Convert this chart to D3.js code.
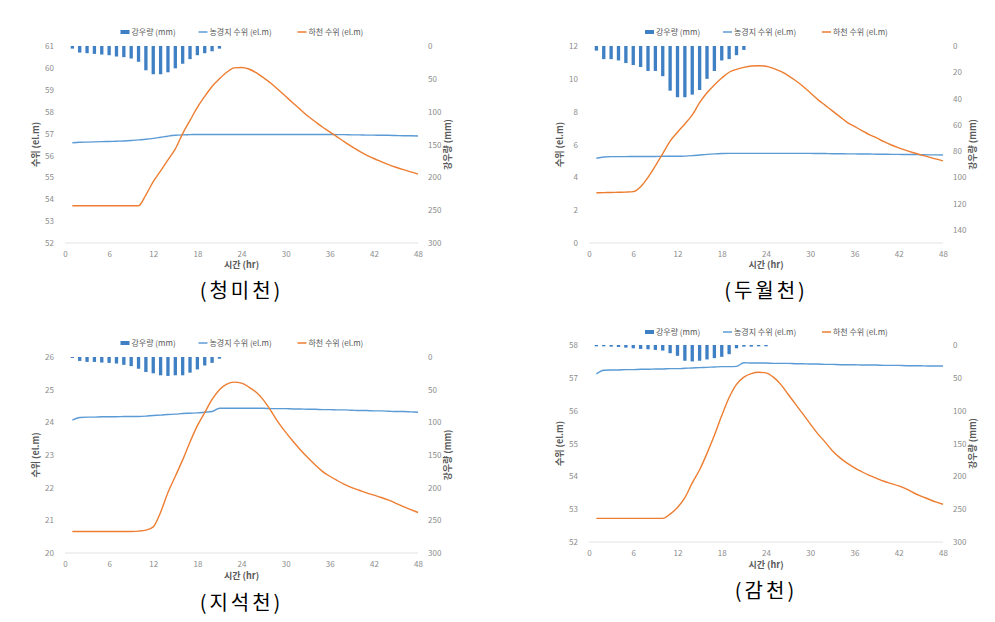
<!DOCTYPE html>
<html><head><meta charset="utf-8">
<script src="https://cdn.jsdelivr.net/npm/d3@7"></script>
<style>
body{margin:0;background:#fff;}
svg{display:block;}
</style></head>
<body><svg id="c" width="995" height="622"></svg>
<script>
// ---------- DATA ----------
const hours = [1,2,3,4,5,6,7,8,9,10,11,12,13,14,15,16,17,18,19,20,21,22,23,24,25,26,27,28,29,30,31,32,33,34,35,36,37,38,39,40,41,42,43,44,45,46,47,48];
const rainHours21 = [1,2,3,4,5,6,7,8,9,10,11,12,13,14,15,16,17,18,19,20,21];
const rainHours24 = [1,2,3,4,5,6,7,8,9,10,11,12,13,14,15,16,17,18,19,20,21,22,23,24];
const xTicks = [0,6,12,18,24,30,36,42,48];

const seriesNames = ["강우량 (mm)", "농경지 수위 (el.m)", "하천 수위 (el.m)"];
const panelNames = ["(청미천)", "(두월천)", "(지석천)", "(감천)"];

// 청미천
const rain_cheongmi = [4,10,11,12,13,14,16,17,19,24,37,43,43,40,34,27,20,14,11,8,4];
const farm_cheongmi = [56.58,56.60,56.61,56.62,56.63,56.64,56.65,56.66,56.68,56.71,56.74,56.78,56.83,56.88,56.92,56.94,56.95,56.96,56.96,56.96,56.96,56.96,56.96,56.96,56.96,56.96,56.96,56.96,56.96,56.96,56.96,56.96,56.96,56.96,56.96,56.96,56.95,56.95,56.94,56.94,56.93,56.93,56.92,56.92,56.91,56.90,56.90,56.89];
const river_cheongmi = [53.7,53.7,53.7,53.7,53.7,53.7,53.7,53.7,53.7,53.7,54.2,54.8,55.3,55.8,56.3,57.0,57.6,58.2,58.7,59.15,59.5,59.8,60.0,60.02,59.95,59.78,59.55,59.3,59.0,58.7,58.4,58.1,57.8,57.55,57.3,57.08,56.85,56.62,56.4,56.2,56.02,55.86,55.72,55.58,55.46,55.35,55.25,55.15];
const leftTicks_cheongmi = [52,53,54,55,56,57,58,59,60,61];
const rightTicks_cheongmi = [0,50,100,150,200,250,300];

// 두월천
const rain_duwol = [3.5,10,10,11,13,14.5,16,19,19,23,34,39,39,37,33.5,25,19,11,10,7,3];
const farm_duwol = [5.16,5.24,5.26,5.26,5.26,5.27,5.27,5.27,5.27,5.28,5.28,5.28,5.29,5.32,5.36,5.40,5.43,5.45,5.46,5.46,5.46,5.46,5.46,5.46,5.46,5.46,5.46,5.46,5.46,5.46,5.45,5.45,5.44,5.44,5.43,5.43,5.42,5.42,5.41,5.41,5.40,5.40,5.39,5.39,5.38,5.37,5.37,5.36];
const river_duwol = [3.06,3.07,3.08,3.09,3.10,3.13,3.43,4.0,4.7,5.45,6.2,6.75,7.25,7.8,8.55,9.15,9.63,10.05,10.4,10.58,10.7,10.78,10.8,10.77,10.64,10.45,10.2,9.9,9.55,9.15,8.75,8.4,8.05,7.7,7.35,7.1,6.85,6.6,6.4,6.17,5.97,5.8,5.64,5.5,5.37,5.25,5.12,5.0];
const leftTicks_duwol = [0,2,4,6,8,10,12];
const rightTicks_duwol = [0,20,40,60,80,100,120,140];

// 지석천
const rain_jiseok = [1.5,6,7.5,7.5,8.5,9,10,12,14,18,23,25,28,29,28,28,24,19,13,9,2.5];
const farm_jiseok = [24.07,24.15,24.16,24.16,24.17,24.17,24.17,24.18,24.18,24.18,24.19,24.21,24.22,24.24,24.25,24.27,24.28,24.29,24.31,24.33,24.43,24.43,24.43,24.43,24.43,24.43,24.43,24.42,24.42,24.42,24.41,24.41,24.40,24.40,24.39,24.39,24.38,24.38,24.37,24.36,24.36,24.35,24.35,24.34,24.33,24.33,24.32,24.31];
const river_jiseok = [20.66,20.66,20.66,20.66,20.66,20.66,20.66,20.66,20.66,20.67,20.7,20.8,21.25,21.85,22.35,22.85,23.4,23.9,24.3,24.7,25.0,25.17,25.23,25.2,25.08,24.92,24.68,24.35,24.0,23.7,23.42,23.16,22.92,22.7,22.5,22.35,22.22,22.1,22.0,21.92,21.84,21.77,21.7,21.62,21.52,21.42,21.33,21.24];
const leftTicks_jiseok = [20,21,22,23,24,25,26];
const rightTicks_jiseok = [0,50,100,150,200,250,300];

// 감천
const rain_gam = [2,2,2.5,3,4,5,6,6.5,7.5,8.5,12.5,16.5,24,25,24,22,20,18,14,5,2.5,2.5,2,2];
const farm_gam = [57.12,57.23,57.24,57.24,57.25,57.25,57.26,57.26,57.27,57.27,57.28,57.28,57.29,57.30,57.31,57.32,57.33,57.34,57.34,57.35,57.46,57.45,57.45,57.45,57.44,57.44,57.44,57.43,57.43,57.42,57.42,57.41,57.41,57.40,57.40,57.40,57.39,57.39,57.39,57.38,57.38,57.38,57.37,57.37,57.37,57.36,57.36,57.36];
const river_gam = [52.72,52.72,52.72,52.72,52.72,52.72,52.72,52.72,52.72,52.72,52.85,53.05,53.35,53.8,54.2,54.7,55.25,55.85,56.4,56.8,57.02,57.13,57.17,57.15,57.02,56.8,56.5,56.2,55.9,55.6,55.3,55.05,54.78,54.57,54.4,54.26,54.14,54.03,53.94,53.85,53.78,53.71,53.62,53.5,53.4,53.31,53.22,53.15];
const leftTicks_gam = [52,53,54,55,56,57,58];
const rightTicks_gam = [0,50,100,150,200,250,300];

// ---------- BUILD ----------
const panels = [
  {name: panelNames[0], rainX: rainHours21, rain: rain_cheongmi, farm: farm_cheongmi, river: river_cheongmi, lt: leftTicks_cheongmi, rt: rightTicks_cheongmi, rMax: 300},
  {name: panelNames[1], rainX: rainHours21, rain: rain_duwol, farm: farm_duwol, river: river_duwol, lt: leftTicks_duwol, rt: rightTicks_duwol, rMax: 150},
  {name: panelNames[2], rainX: rainHours21, rain: rain_jiseok, farm: farm_jiseok, river: river_jiseok, lt: leftTicks_jiseok, rt: rightTicks_jiseok, rMax: 300},
  {name: panelNames[3], rainX: rainHours24, rain: rain_gam, farm: farm_gam, river: river_gam, lt: leftTicks_gam, rt: rightTicks_gam, rMax: 300}
];
const layouts = [
  {x0: 65, x1: 418, y0: 46, y1: 243, legendY: 32, xTitleY: 268, captionY: 298},
  {x0: 589, x1: 943, y0: 46, y1: 243, legendY: 32, xTitleY: 268, captionY: 298},
  {x0: 65, x1: 418, y0: 357, y1: 553, legendY: 343, xTitleY: 579, captionY: 610},
  {x0: 589, x1: 943, y0: 345, y1: 542, legendY: 332, xTitleY: 568, captionY: 598}
];

const BLUE = "#5b9bd5", ORANGE = "#ed7d31", BAR = "#3f7fc4";
const TICK = "#8c8c8c", TITLE = "#595959";
const FONT = "'Noto Sans CJK KR','Noto Sans',sans-serif";

const svg = d3.select("#c");

panels.forEach((p, i) => {
  const L = layouts[i];
  const g = svg.append("g");
  const x = d3.scaleLinear().domain([0, 48]).range([L.x0, L.x1]);
  const yL = d3.scaleLinear().domain([d3.min(p.lt), d3.max(p.lt)]).range([L.y1, L.y0]);
  const yR = d3.scaleLinear().domain([0, p.rMax]).range([L.y0, L.y1]);

  // baseline
  g.append("line").attr("x1", L.x0).attr("x2", L.x1).attr("y1", L.y1).attr("y2", L.y1)
    .attr("stroke", "#e3e3e3").attr("stroke-width", 1);

  // axes
  const fmt = d3.format("d");
  const ax = d3.axisBottom(x).tickValues(xTicks).tickFormat(fmt).tickSize(0).tickPadding(8);
  const gx = g.append("g").attr("transform", `translate(0,${L.y1})`).call(ax);
  const aL = d3.axisLeft(yL).tickValues(p.lt).tickFormat(fmt).tickSize(0).tickPadding(11);
  const gl = g.append("g").attr("transform", `translate(${L.x0},0)`).call(aL);
  const aR = d3.axisRight(yR).tickValues(p.rt).tickFormat(fmt).tickSize(0).tickPadding(10);
  const gr = g.append("g").attr("transform", `translate(${L.x1},0)`).call(aR);
  [gx, gl, gr].forEach(a => {
    a.select(".domain").remove();
    a.selectAll("text").attr("fill", TICK).style("font-family", FONT).style("font-size", "8px");
  });

  // bars (inverted rainfall axis)
  const bw = (x(1) - x(0)) * 0.45;
  g.append("g").selectAll("rect").data(p.rain).join("rect")
    .attr("x", (d, k) => x(p.rainX[k]) - bw / 2)
    .attr("y", yR(0))
    .attr("width", bw)
    .attr("height", d => yR(d) - yR(0))
    .attr("fill", BAR);

  const line = d3.line().x((d, k) => x(hours[k])).y(d => yL(d)).curve(d3.curveMonotoneX);
  g.append("path").datum(p.farm).attr("d", line).attr("fill", "none")
    .attr("stroke", BLUE).attr("stroke-width", 1.4);
  g.append("path").datum(p.river).attr("d", line).attr("fill", "none")
    .attr("stroke", ORANGE).attr("stroke-width", 1.4);

  // axis titles
  const cy = (L.y0 + L.y1) / 2;
  g.append("text").attr("transform", `translate(${L.x0 - 26},${cy}) rotate(-90)`)
    .attr("text-anchor", "middle").attr("fill", TITLE).style("font-family", FONT)
    .style("font-size", "9px").style("font-weight", "bold").text("수위 (el.m)");
  g.append("text").attr("transform", `translate(${L.x1 + 33},${cy}) rotate(-90)`)
    .attr("text-anchor", "middle").attr("fill", TITLE).style("font-family", FONT)
    .style("font-size", "9px").style("font-weight", "bold").text("강우량 (mm)");
  const xc = (L.x0 + L.x1) / 2;
  g.append("text").attr("x", xc).attr("y", L.xTitleY).attr("text-anchor", "middle")
    .attr("fill", TITLE).style("font-family", FONT).style("font-size", "9px")
    .style("font-weight", "bold").text("시간 (hr)");

  // legend
  const lg = g.append("g").attr("transform", `translate(${xc},${L.legendY})`);
  const offs = [-121, -43, 56];
  lg.append("rect").attr("x", offs[0]).attr("y", -2).attr("width", 9).attr("height", 4).attr("fill", BAR);
  lg.append("line").attr("x1", offs[1]).attr("x2", offs[1] + 9).attr("y1", 0).attr("y2", 0).attr("stroke", BLUE).attr("stroke-width", 1.5);
  lg.append("line").attr("x1", offs[2]).attr("x2", offs[2] + 9).attr("y1", 0).attr("y2", 0).attr("stroke", ORANGE).attr("stroke-width", 1.5);
  seriesNames.forEach((s, k) => {
    lg.append("text").attr("x", offs[k] + 11).attr("y", 3).attr("fill", TITLE)
      .style("font-family", FONT).style("font-size", "8px").text(s);
  });

  // caption
  svg.append("text").attr("x", xc).attr("y", L.captionY).attr("text-anchor", "middle")
    .attr("fill", "#000").style("font-family", FONT).style("font-size", "20px")
    .style("letter-spacing", "3px").text(p.name);
});
</script>
</body></html>
